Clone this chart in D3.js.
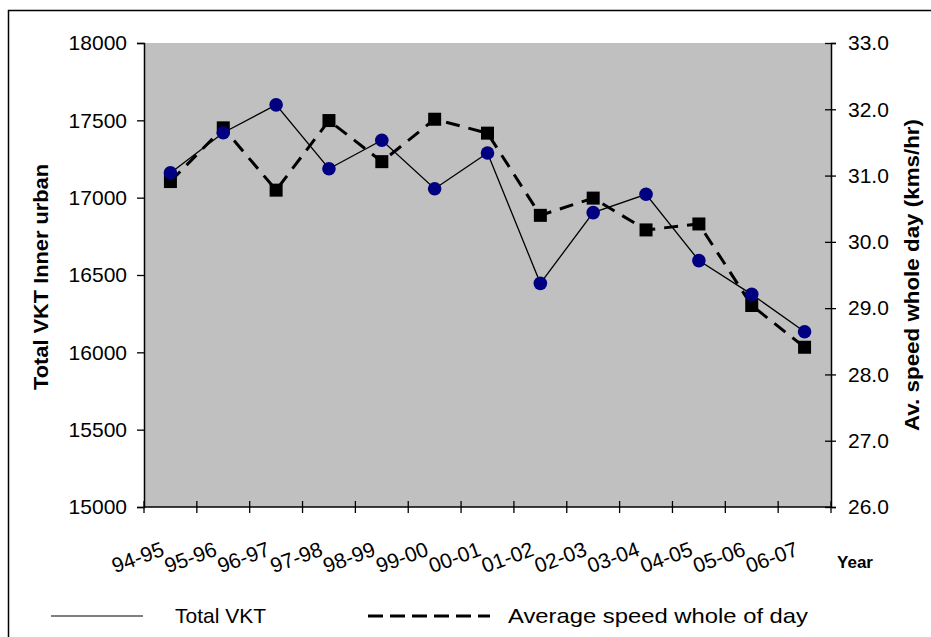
<!DOCTYPE html>
<html><head><meta charset="utf-8">
<script src="https://cdn.jsdelivr.net/npm/d3@7"></script>
<style>body{margin:0;background:#fff;} svg{display:block;font-family:Arial,"Liberation Sans",sans-serif;}</style>
</head><body><svg id="c" width="931" height="637"></svg>
<script>
const years = ["94-95","95-96","96-97","97-98","98-99","99-00","00-01","01-02","02-03","03-04","04-05","05-06","06-07"];
const vkt = [17160,17420,17600,17187,17371,17058,17289,16446,16903,17022,16593,16375,16133];
const speed = [30.91,31.72,30.78,31.83,31.21,31.85,31.64,30.40,30.66,30.18,30.27,29.04,28.41];
const leftTicks = [15000,15500,16000,16500,17000,17500,18000];
const rightTicks = [26,27,28,29,30,31,32,33];

const svg = d3.select("#c");
const L = 144, R = 831, T = 43, B = 507;

// outer frame
svg.append("rect").attr("x",8.5).attr("y",10.5).attr("width",960).attr("height",700)
  .attr("fill","none").attr("stroke","#000").attr("stroke-width",1.5);

const x = d3.scaleBand().domain(years).range([L,R]);
const yL = d3.scaleLinear().domain([15000,18000]).range([B,T]);
const yR = d3.scaleLinear().domain([26,33]).range([B,T]);

svg.append("rect").attr("x",L).attr("y",T).attr("width",R-L).attr("height",B-T).attr("fill","#C0C0C0");

// left axis
const gl = svg.append("g").attr("transform",`translate(${L},0)`)
  .call(d3.axisLeft(yL).tickValues(leftTicks).tickSize(7).tickPadding(10).tickFormat(d3.format("d")));
gl.select(".domain").attr("stroke","#000").attr("stroke-width",1.5);
gl.selectAll(".tick line").attr("stroke","#000").attr("stroke-width",1.3);
gl.selectAll(".tick text").attr("font-size",21).attr("fill","#000").attr("font-family","Arial,'Liberation Sans',sans-serif");

// right axis
const gr = svg.append("g").attr("transform",`translate(${R},0)`)
  .call(d3.axisRight(yR).tickValues(rightTicks).tickSize(5).tickPadding(12).tickFormat(d3.format(".1f")));
gr.select(".domain").attr("stroke","#000").attr("stroke-width",1.5);
gr.selectAll(".tick line").attr("stroke","#000").attr("stroke-width",1.3).attr("x1",-6);
gr.selectAll(".tick text").attr("font-size",21).attr("fill","#000").attr("font-family","Arial,'Liberation Sans',sans-serif");

// bottom axis
const step = x.step();
const gb = svg.append("g").attr("transform",`translate(0,${B})`);
gb.append("line").attr("x1",L).attr("x2",R).attr("stroke","#000").attr("stroke-width",1.5);
gb.selectAll("line.t").data(years.concat(["end"])).enter().append("line").attr("class","t")
  .attr("x1",(d,i)=> i<years.length ? x(d) : x(years[years.length-1])+step)
  .attr("x2",(d,i)=> i<years.length ? x(d) : x(years[years.length-1])+step)
  .attr("y1",-6).attr("y2",6).attr("stroke","#000").attr("stroke-width",1.3);
gb.selectAll("text").data(years).enter().append("text")
  .attr("transform",d=>`translate(${x(d)+x.bandwidth()/2-5},${48}) rotate(-20)`)
  .attr("text-anchor","end").attr("font-size",21).attr("fill","#000").text(d=>d);

// axis titles
svg.append("text").attr("transform",`translate(48,277) rotate(-90)`).attr("text-anchor","middle")
  .attr("font-size",20).attr("font-weight","bold").attr("textLength",226).attr("lengthAdjust","spacingAndGlyphs").text("Total VKT Inner urban");
svg.append("text").attr("transform",`translate(919,275) rotate(-90)`).attr("text-anchor","middle")
  .attr("font-size",20).attr("font-weight","bold").attr("textLength",312).attr("lengthAdjust","spacingAndGlyphs").text("Av. speed whole day (kms/hr)");
svg.append("text").attr("x",855).attr("y",568).attr("text-anchor","middle")
  .attr("font-size",17).attr("font-weight","bold").text("Year");

// speed series
const cx = d => x(d)+x.bandwidth()/2;
svg.append("path").datum(years.map((d,i)=>[cx(d),yR(speed[i])]))
  .attr("d",d3.line()).attr("fill","none").attr("stroke","#000").attr("stroke-width",3).attr("stroke-dasharray","14,9");
svg.selectAll("rect.sq").data(years).enter().append("rect").attr("class","sq")
  .attr("x",(d)=>cx(d)-6.5).attr("y",(d,i)=>yR(speed[i])-6.5).attr("width",13).attr("height",13).attr("fill","#000");

// VKT series
svg.append("path").datum(years.map((d,i)=>[cx(d),yL(vkt[i])]))
  .attr("d",d3.line()).attr("fill","none").attr("stroke","#000").attr("stroke-width",1.3);
svg.selectAll("circle.pt").data(years).enter().append("circle").attr("class","pt")
  .attr("cx",d=>cx(d)).attr("cy",(d,i)=>yL(vkt[i])).attr("r",6.8).attr("fill","#000080");

// legend
const lg = svg.append("g");
lg.append("line").attr("x1",51).attr("x2",143).attr("y1",616).attr("y2",616).attr("stroke","#000").attr("stroke-width",1.2);
lg.append("text").attr("x",175).attr("y",623).attr("font-size",21).text("Total VKT");
lg.append("line").attr("x1",368).attr("x2",490).attr("y1",616).attr("y2",616).attr("stroke","#000").attr("stroke-width",3).attr("stroke-dasharray","15,7");
lg.append("text").attr("x",508).attr("y",623).attr("font-size",21).attr("textLength",300).attr("lengthAdjust","spacingAndGlyphs").text("Average speed whole of day");
</script></body></html>
